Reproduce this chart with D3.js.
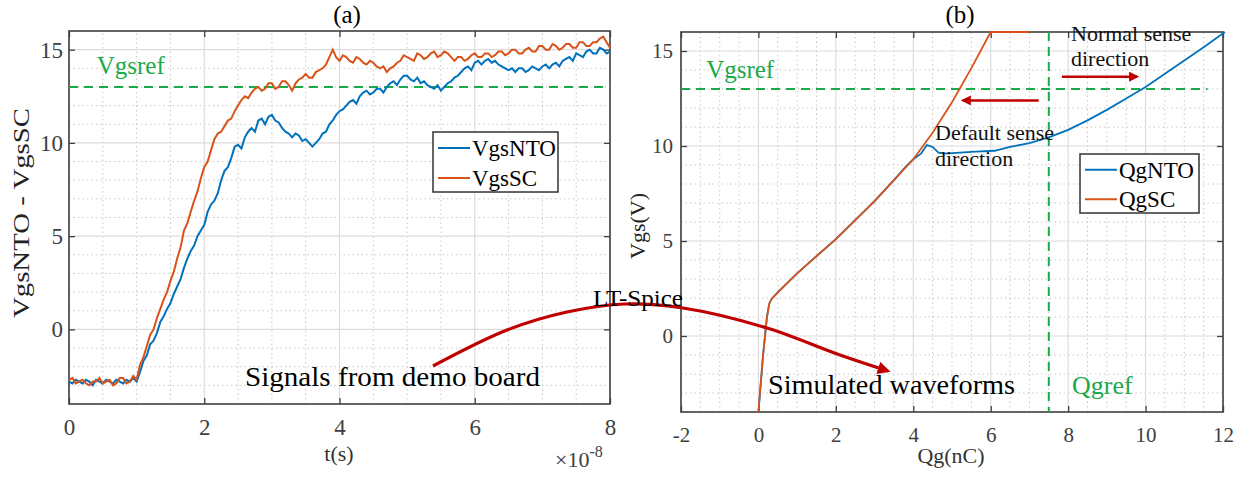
<!DOCTYPE html>
<html>
<head>
<meta charset="utf-8">
<script src="https://cdn.jsdelivr.net/npm/d3@7"></script>
<style>
  body { margin: 0; background: #fff; }
  svg { display: block; }
  text { font-family: "Liberation Serif", "Times New Roman", serif; }
</style>
</head>
<body>
<div id="chart"></div>
<script>
// Panel (a): measured gate voltages, time in units of 1e-8 s
const tVals = [0, 0.05, 0.1, 0.15, 0.2, 0.25, 0.3, 0.35, 0.4, 0.45, 0.5, 0.55, 0.6, 0.65, 0.7, 0.75, 0.8, 0.85, 0.9, 0.95,
  1, 1.05, 1.1, 1.15, 1.2, 1.25, 1.3, 1.35, 1.4, 1.45, 1.5, 1.55, 1.6, 1.65, 1.7, 1.75, 1.8, 1.85, 1.9, 1.95,
  2, 2.05, 2.1, 2.15, 2.2, 2.25, 2.3, 2.35, 2.4, 2.45, 2.5, 2.55, 2.6, 2.65, 2.7, 2.75, 2.8, 2.85, 2.9, 2.95,
  3, 3.05, 3.1, 3.15, 3.2, 3.25, 3.3, 3.35, 3.4, 3.45, 3.5, 3.55, 3.6, 3.65, 3.7, 3.75, 3.8, 3.85, 3.9, 3.95,
  4, 4.05, 4.1, 4.15, 4.2, 4.25, 4.3, 4.35, 4.4, 4.45, 4.5, 4.55, 4.6, 4.65, 4.7, 4.75, 4.8, 4.85, 4.9, 4.95,
  5, 5.05, 5.1, 5.15, 5.2, 5.25, 5.3, 5.35, 5.4, 5.45, 5.5, 5.55, 5.6, 5.65, 5.7, 5.75, 5.8, 5.85, 5.9, 5.95,
  6, 6.05, 6.1, 6.15, 6.2, 6.25, 6.3, 6.35, 6.4, 6.45, 6.5, 6.55, 6.6, 6.65, 6.7, 6.75, 6.8, 6.85, 6.9, 6.95,
  7, 7.05, 7.1, 7.15, 7.2, 7.25, 7.3, 7.35, 7.4, 7.45, 7.5, 7.55, 7.6, 7.65, 7.7, 7.75, 7.8, 7.85, 7.9, 7.95, 8]
const vgsNTO = [-2.8, -2.9, -2.7, -2.8, -2.9, -2.7, -2.8, -3.0, -2.7, -2.8, -2.9, -2.7, -2.8, -2.9, -2.7, -2.8, -2.9, -2.7, -2.8, -2.6,
  -2.8, -2.3, -1.7, -1.4, -0.8, -0.6, -0.2, 0.4, 0.7, 1.1, 1.4, 1.9, 2.3, 2.7, 3.3, 3.8, 4.2, 4.5, 5.0, 5.3,
  5.6, 6.3, 6.7, 6.9, 7.3, 8.0, 8.5, 8.7, 9.2, 9.8, 9.9, 9.7, 10.3, 10.6, 10.8, 10.6, 11.2, 11.3, 11.0, 11.4,
  11.5, 11.2, 11.1, 10.8, 10.6, 10.5, 10.3, 10.5, 10.4, 10.1, 10.2, 10.0, 9.8, 10.0, 10.2, 10.5, 10.6, 11.0, 11.2, 11.5,
  11.7, 11.8, 12.0, 12.2, 12.3, 12.1, 12.5, 12.7, 12.8, 12.6, 12.7, 12.9, 12.9, 12.7, 13.0, 13.2, 13.3, 13.1, 13.4, 13.6,
  13.6, 13.4, 13.3, 13.5, 13.2, 13.3, 13.1, 13.0, 12.9, 13.1, 12.8, 13.0, 13.2, 13.3, 13.5, 13.6, 13.8, 14.0, 14.1, 13.9,
  14.3, 14.4, 14.2, 14.4, 14.5, 14.3, 14.4, 14.2, 14.1, 14.0, 13.9, 14.0, 13.8, 14.0, 14.0, 13.8, 13.9, 14.1, 14.0, 13.9,
  14.1, 14.2, 14.0, 14.2, 14.3, 14.1, 14.4, 14.5, 14.6, 14.4, 14.8, 14.7, 14.6, 14.9, 15.0, 14.8, 14.8, 15.1, 15.0, 14.8, 14.9]
const vgsSC = [-2.7, -2.6, -2.9, -2.8, -2.7, -2.9, -3.0, -2.8, -2.8, -2.6, -2.9, -2.8, -2.7, -3.0, -2.9, -2.6, -2.6, -2.9, -2.8, -2.5,
  -2.7, -1.9, -1.5, -0.9, -0.3, 0.0, 0.6, 1.1, 1.6, 2.0, 2.6, 3.1, 3.8, 4.4, 5.3, 5.7, 6.3, 6.9, 7.4, 8.1,
  8.7, 9.0, 9.6, 10.2, 10.5, 10.6, 10.9, 11.2, 11.3, 11.7, 12.0, 12.3, 12.5, 12.4, 12.7, 12.9, 13.0, 12.8, 12.9, 13.2,
  13.2, 12.9, 13.0, 13.3, 13.3, 13.1, 12.8, 13.2, 13.4, 13.5, 13.7, 13.5, 13.5, 13.8, 13.9, 14.0, 14.2, 14.6, 15.0, 14.6,
  14.4, 14.7, 14.6, 14.4, 14.3, 14.6, 14.5, 14.3, 14.2, 14.4, 14.3, 14.1, 14.0, 14.1, 13.8, 14.0, 14.1, 14.3, 14.4, 14.7,
  14.6, 14.5, 14.4, 14.8, 14.7, 14.5, 14.6, 14.8, 14.9, 14.6, 14.7, 14.9, 14.8, 14.6, 14.4, 14.6, 14.6, 14.4, 14.5, 14.7,
  14.8, 14.6, 14.6, 14.8, 14.8, 14.6, 14.7, 14.9, 14.9, 14.7, 14.8, 15.0, 15.0, 14.8, 14.8, 15.0, 15.1, 14.9, 14.9, 15.2,
  15.2, 15.0, 15.0, 15.3, 15.2, 15.0, 15.1, 15.3, 15.3, 15.1, 15.1, 15.4, 15.4, 15.2, 15.2, 15.4, 15.4, 15.6, 15.7, 15.4, 15.1]

// Panel (b): simulated gate charge curves (Qg in nC, Vgs in V)
const qgSC_q = [0, 0.04, 0.08, 0.12, 0.17, 0.22, 0.28, 0.34, 0.5, 1.0, 1.5, 2.0, 2.5, 3.0, 3.5, 4.0, 4.5, 5.0, 5.5, 6.0, 7.0]
const qgSC_v = [-4, -3, -2, -1, 0, 1, 1.7, 1.95, 2.3, 3.3, 4.2, 5.1, 6.1, 7.1, 8.2, 9.3, 10.7, 12.3, 14.1, 16, 16]
const qgNTO_q = [0, 0.04, 0.08, 0.12, 0.17, 0.22, 0.28, 0.34, 0.5, 1.0, 1.5, 2.0, 2.5, 3.0, 3.5, 3.8, 4.0, 4.2, 4.35, 4.5, 4.65, 4.8, 5.2, 5.6, 6.1, 6.5, 7.0, 7.5, 8.0, 8.5, 9.0, 9.5, 10.0, 10.5, 11.0, 11.5, 12.05]
const qgNTO_v = [-4, -3, -2, -1, 0, 1, 1.7, 1.95, 2.3, 3.3, 4.2, 5.1, 6.1, 7.1, 8.2, 8.9, 9.3, 9.6, 10.05, 9.95, 9.65, 9.6, 9.65, 9.7, 9.75, 9.95, 10.15, 10.45, 10.85, 11.35, 11.9, 12.5, 13.1, 13.8, 14.5, 15.2, 16]

const vgsRef = 13
const qgRef = 7.5

const leftXTicks = [0, 2, 4, 6, 8]
const rightXTicks = [-2, 0, 2, 4, 6, 8, 10, 12]
const yTicks = [0, 5, 10, 15]

const blue = "#0072BD", orange = "#D95319", green = "#1aaa4a", darkRed = "#c00000"

const width = 1247, height = 477

const svg = d3.select("#chart").append("svg")
  .attr("width", width)
  .attr("height", height)

svg.append("defs").append("marker")
  .attr("id", "redhead")
  .attr("viewBox", "0 0 10 10")
  .attr("refX", 8).attr("refY", 5)
  .attr("markerWidth", 4).attr("markerHeight", 4)
  .attr("markerUnits", "strokeWidth")
  .attr("orient", "auto")
  .append("path").attr("d", "M0,0 L10,5 L0,10 z").attr("fill", darkRed)

// draw one MATLAB-like axes box with grid, returns the group
function drawPanel(x, y, xTicks, tickFont, yPad, title, titleX) {
  const g = svg.append("g")
  const [x0, x1] = x.range(), [y0, y1] = y.range()
  const xd = x.domain(), yd = y.domain()

  // minor grid (dotted)
  const xMinor = d3.range(xd[0], xd[1] + 1e-9, 0.5).filter(v => !xTicks.includes(+v.toFixed(3)))
  const yMinor = d3.range(yd[0], yd[1] + 1e-9, 1).filter(v => !yTicks.includes(v))
  g.append("g").selectAll("line").data(xMinor).join("line")
    .attr("x1", d => x(d)).attr("x2", d => x(d)).attr("y1", y0).attr("y2", y1)
    .attr("stroke", "#c8c8c8").attr("stroke-width", 1).attr("stroke-dasharray", "1.5,3")
  g.append("g").selectAll("line").data(yMinor).join("line")
    .attr("y1", d => y(d)).attr("y2", d => y(d)).attr("x1", x0).attr("x2", x1)
    .attr("stroke", "#c8c8c8").attr("stroke-width", 1).attr("stroke-dasharray", "1.5,3")

  // major grid
  g.append("g").selectAll("line").data(xTicks).join("line")
    .attr("x1", d => x(d)).attr("x2", d => x(d)).attr("y1", y0).attr("y2", y1)
    .attr("stroke", "#dcdcdc").attr("stroke-width", 1.2)
  g.append("g").selectAll("line").data(yTicks).join("line")
    .attr("y1", d => y(d)).attr("y2", d => y(d)).attr("x1", x0).attr("x2", x1)
    .attr("stroke", "#dcdcdc").attr("stroke-width", 1.2)

  // axes with inward ticks
  const axisStyle = a => {
    a.select(".domain").remove()
    a.selectAll(".tick line").attr("stroke", "#404040").attr("stroke-width", 1.3)
    a.selectAll("text").attr("fill", "#404040").style("font-size", tickFont + "px")
      .style("font-family", '"Liberation Serif", serif')
  }
  const fmt = d => String(d)  // plain hyphen like the original
  g.append("g").attr("transform", `translate(0,${y0})`)
    .call(d3.axisBottom(x).tickValues(xTicks).tickSizeInner(-6).tickSizeOuter(0).tickPadding(15).tickFormat(fmt))
    .call(axisStyle)
  g.append("g").attr("transform", `translate(0,${y1})`)
    .call(d3.axisTop(x).tickValues(xTicks).tickSizeInner(-6).tickSizeOuter(0).tickFormat(""))
    .call(axisStyle)
  g.append("g").attr("transform", `translate(${x0},0)`)
    .call(d3.axisLeft(y).tickValues(yTicks).tickSizeInner(-6).tickSizeOuter(0).tickPadding(yPad).tickFormat(fmt))
    .call(axisStyle)
  g.append("g").attr("transform", `translate(${x1},0)`)
    .call(d3.axisRight(y).tickValues(yTicks).tickSizeInner(-6).tickSizeOuter(0).tickFormat(""))
    .call(axisStyle)

  g.append("rect")
    .attr("x", x0).attr("y", y1).attr("width", x1 - x0).attr("height", y0 - y1)
    .attr("fill", "none").attr("stroke", "#404040").attr("stroke-width", 1.6)

  g.append("text").attr("x", titleX).attr("y", 23)
    .attr("text-anchor", "middle").style("font-size", "25px").text(title)
  return g
}

function legend(g, bx, by, bw, bh, items, font, tw) {
  g.append("rect").attr("x", bx).attr("y", by).attr("width", bw).attr("height", bh)
    .attr("fill", "#fff").attr("stroke", "#333").attr("stroke-width", 1.5)
  const rowH = bh / items.length
  items.forEach((it, i) => {
    const cy = by + rowH * (i + 0.5) + 1
    g.append("line").attr("x1", bx + 5).attr("x2", bx + 37).attr("y1", cy).attr("y2", cy)
      .attr("stroke", it.color).attr("stroke-width", 2)
    g.append("text").attr("x", bx + 39).attr("y", cy + 8).style("font-size", font + "px").text(it.name)
  })
}

// ---------- panel (a)
const xa = d3.scaleLinear().domain([0, 8]).range([69, 610])
const ya = d3.scaleLinear().domain([-4, 16]).range([404, 31])
const ga = drawPanel(xa, ya, leftXTicks, 23, 6, "(a)", 347)

ga.append("line")
  .attr("x1", xa(0)).attr("x2", xa(8)).attr("y1", ya(vgsRef)).attr("y2", ya(vgsRef))
  .attr("stroke", green).attr("stroke-width", 2).attr("stroke-dasharray", "9,6")

const pathA = vals => d3.line()
  .x((d, i) => xa(tVals[i]))
  .y(d => ya(d))(vals)
ga.append("path").attr("d", pathA(vgsNTO)).attr("fill", "none").attr("stroke", blue).attr("stroke-width", 2)
ga.append("path").attr("d", pathA(vgsSC)).attr("fill", "none").attr("stroke", orange).attr("stroke-width", 2)

ga.append("text").attr("x", xa(0.41)).attr("y", ya(13.7)).attr("fill", green)
  .style("font-size", "25px").text("Vgsref")

legend(ga, 433, 132, 125, 60, [{ name: "VgsNTO", color: blue }, { name: "VgsSC", color: orange }], 23)

ga.append("text").attr("transform", "translate(29,213) rotate(-90)")
  .attr("text-anchor", "middle").style("font-size", "24px").attr("fill", "#222")
  .attr("textLength", 210).attr("lengthAdjust", "spacingAndGlyphs")
  .text("VgsNTO - VgsSC")
ga.append("text").attr("x", 339).attr("y", 461).attr("text-anchor", "middle")
  .style("font-size", "22px").attr("fill", "#333").text("t(s)")
const expo = ga.append("text").attr("x", 555).attr("y", 467).style("font-size", "22px").attr("fill", "#404040")
expo.append("tspan").text("\u00d710")
expo.append("tspan").attr("dy", -10).style("font-size", "16px").text("-8")

// ---------- panel (b)
const xb = d3.scaleLinear().domain([-2, 12]).range([681, 1223])
const yb = d3.scaleLinear().domain([-4, 16]).range([412, 32])
const gb = drawPanel(xb, yb, rightXTicks, 21, 8, "(b)", 960)

gb.append("line")
  .attr("x1", xb(-2)).attr("x2", xb(11.6)).attr("y1", yb(vgsRef)).attr("y2", yb(vgsRef))
  .attr("stroke", green).attr("stroke-width", 2).attr("stroke-dasharray", "9,6")
gb.append("line")
  .attr("x1", xb(qgRef)).attr("x2", xb(qgRef)).attr("y1", yb(16)).attr("y2", yb(-4))
  .attr("stroke", green).attr("stroke-width", 2).attr("stroke-dasharray", "9,6")

const pathB = (qs, vs) => d3.line().x((d, i) => xb(qs[i])).y(d => yb(d))(vs)
gb.append("path").attr("d", pathB(qgNTO_q, qgNTO_v)).attr("fill", "none").attr("stroke", blue).attr("stroke-width", 1.8)
gb.append("path").attr("d", pathB(qgSC_q, qgSC_v)).attr("fill", "none").attr("stroke", orange).attr("stroke-width", 1.8)

gb.append("text").attr("x", xb(-1.35)).attr("y", yb(13.6)).attr("fill", green)
  .style("font-size", "25px").text("Vgsref")
gb.append("text").attr("x", xb(8.1)).attr("y", yb(-3.05)).attr("fill", green)
  .style("font-size", "26px").text("Qgref")

legend(gb, 1080, 154, 119, 59, [{ name: "QgNTO", color: blue }, { name: "QgSC", color: orange }], 23)

gb.append("text").attr("transform", "translate(645,226) rotate(-90)")
  .attr("text-anchor", "middle").style("font-size", "22px").attr("fill", "#222").text("Vgs(V)")
gb.append("text").attr("x", 951).attr("y", 463).attr("text-anchor", "middle")
  .style("font-size", "22px").attr("fill", "#333").text("Qg(nC)")

// sense-direction arrows
gb.append("line")
  .attr("x1", xb(7.24)).attr("x2", xb(5.28)).attr("y1", yb(12.4)).attr("y2", yb(12.4))
  .attr("stroke", darkRed).attr("stroke-width", 2.5).attr("marker-end", "url(#redhead)")
gb.append("line")
  .attr("x1", xb(7.84)).attr("x2", xb(9.78)).attr("y1", yb(13.65)).attr("y2", yb(13.65))
  .attr("stroke", darkRed).attr("stroke-width", 2.5).attr("marker-end", "url(#redhead)")

const dft = gb.append("text").style("font-size", "22px").attr("fill", "#111")
dft.append("tspan").attr("x", 935).attr("y", 140).text("Default sense")
dft.append("tspan").attr("x", 935).attr("y", 166).text("direction")
const nrm = gb.append("text").style("font-size", "22px").attr("fill", "#111")
nrm.append("tspan").attr("x", 1071).attr("y", 41).text("Normal sense")
nrm.append("tspan").attr("x", 1071).attr("y", 66).text("direction")

// ---------- annotations across panels
svg.append("text").attr("x", 245).attr("y", 386)
  .style("font-size", "28px").attr("fill", "#000")
  .attr("textLength", 295).attr("lengthAdjust", "spacingAndGlyphs").text("Signals from demo board")
svg.append("text").attr("x", 768).attr("y", 394)
  .style("font-size", "28px").attr("fill", "#000")
  .attr("textLength", 247).attr("lengthAdjust", "spacingAndGlyphs").text("Simulated waveforms")

const curvePts = [[433, 366], [507, 330], [567, 312], [625, 304], [683, 308], [767, 328], [840, 355], [888, 371]]
svg.append("path")
  .attr("d", d3.line().curve(d3.curveCatmullRom)(curvePts))
  .attr("fill", "none").attr("stroke", darkRed).attr("stroke-width", 3.2)
  .attr("marker-end", "url(#redhead)")

svg.append("text").attr("x", 593).attr("y", 306)
  .style("font-size", "24px").attr("fill", "#000")
  .attr("textLength", 90).attr("lengthAdjust", "spacingAndGlyphs").text("LT-Spice")
</script>
</body>
</html>
